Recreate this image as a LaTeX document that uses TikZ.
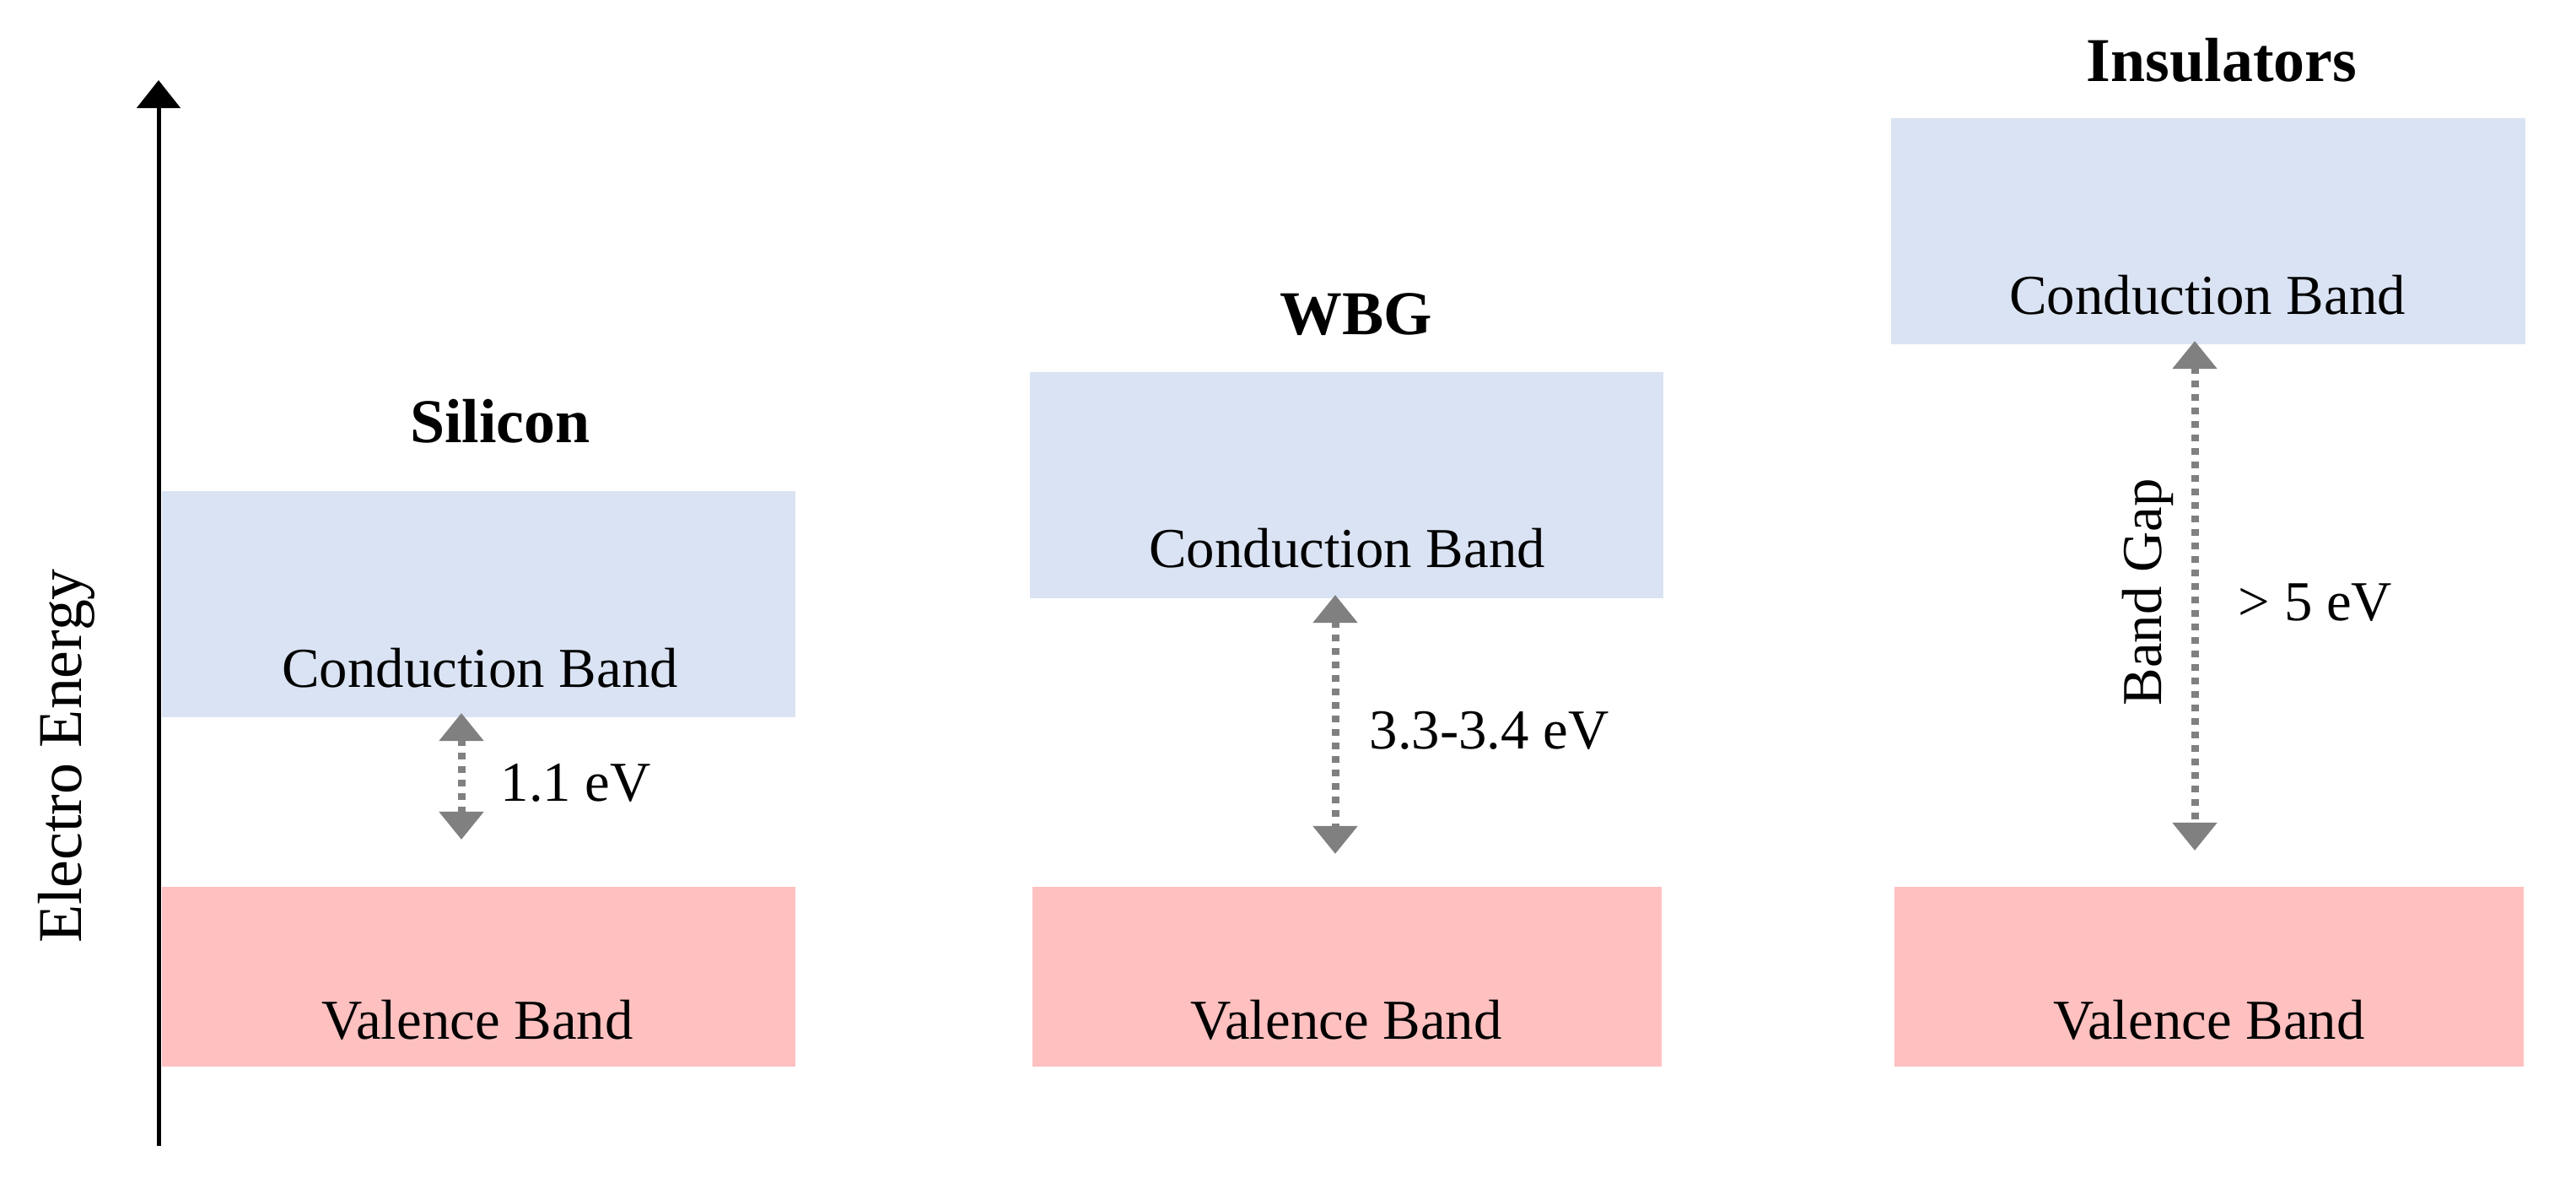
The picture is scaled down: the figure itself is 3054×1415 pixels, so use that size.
\documentclass[tikz,border=0pt]{standalone}
\usepackage{fontspec}
\setmainfont{Liberation Serif}
\usetikzlibrary{arrows.meta}
\definecolor{cbblue}{HTML}{DAE3F3}
\definecolor{vbpink}{HTML}{FFC0C0}
\definecolor{gapgray}{HTML}{808080}
\begin{document}
\begin{tikzpicture}[x=0.01cm,y=-0.01cm,
  band/.style={inner sep=0pt, outer sep=0pt, draw=none, anchor=north west},
  cbbox/.style={band, fill=cbblue, minimum height=2.68cm},
  vbbox/.style={band, fill=vbpink, minimum height=2.13cm},
  bandtext/.style={inner sep=0pt, anchor=base, font=\fontsize{19}{23}\selectfont},
  titletext/.style={inner sep=0pt, anchor=base, font=\fontsize{21}{25}\selectfont\bfseries},
  gaplabel/.style={inner sep=0pt, anchor=base west, font=\fontsize{19}{23}\selectfont},
  gaparrow/.style={draw=gapgray, line width=0.09cm, dash pattern=on 0.077cm off 0.083cm,
    {Triangle[width=0.51cm,length=0.33cm]}-{Triangle[width=0.51cm,length=0.33cm]}},
  axisarrow/.style={draw=black, line width=0.05cm, -{Triangle[width=0.51cm,length=0.33cm]}}
]
\useasboundingbox (0,0) rectangle (3054,1415);

% axis
\coordinate (axbot) at (188,1358);
\coordinate (axtop) at (188,95);
\draw[axisarrow] (axbot) -- (axtop);
\node[inner sep=0pt, anchor=base, rotate=90, font=\fontsize{21}{25}\selectfont] (axlabel) at (97,896) {Electro Energy};

% Silicon
\node[cbbox, minimum width=7.51cm] (sicb) at (192,582) {};
\node[vbbox, minimum width=7.51cm] (sivb) at (192,1051) {};
\node[titletext] (sititle) at (593,524) {Silicon};
\node[bandtext] (sicbt) at (569,814) {Conduction Band};
\node[bandtext] (sivbt) at (566,1231) {Valence Band};
\coordinate (sia) at (547,845);
\coordinate (sib) at (547,995);
\draw[gaparrow] (sia) -- (sib);
\node[gaplabel] (sigap) at (593,949) {1.1 eV};

% WBG
\node[cbbox, minimum width=7.51cm] (wbcb) at (1221,441) {};
\node[vbbox, minimum width=7.46cm] (wbvb) at (1224,1051) {};
\node[titletext] (wbtitle) at (1608,396) {WBG};
\node[bandtext] (wbcbt) at (1597,672) {Conduction Band};
\node[bandtext] (wbvbt) at (1596,1231) {Valence Band};
\coordinate (wba) at (1583,705);
\coordinate (wbb) at (1583,1012);
\draw[gaparrow] (wba) -- (wbb);
\node[gaplabel] (wbgap) at (1623,887) {3.3-3.4 eV};

% Insulators
\node[cbbox, minimum width=7.52cm] (incb) at (2242,140) {};
\node[vbbox, minimum width=7.46cm] (invb) at (2246,1051) {};
\node[titletext] (intitle) at (2634,96) {Insulators};
\node[bandtext] (incbt) at (2617,372) {Conduction Band};
\node[bandtext] (invbt) at (2619,1231) {Valence Band};
\coordinate (ina) at (2602,404);
\coordinate (inb) at (2602,1008);
\draw[gaparrow] (ina) -- (inb);
\node[inner sep=0pt, anchor=base, rotate=90, font=\fontsize{19}{23}\selectfont] (inbg) at (2562,702) {Band Gap};
\node[gaplabel] (ingap) at (2653,735) {> 5 eV};
\end{tikzpicture}
\end{document}
